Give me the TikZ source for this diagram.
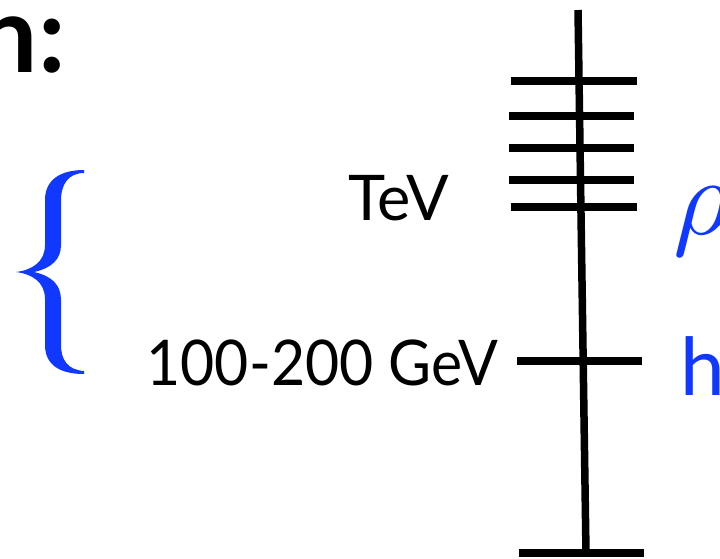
\documentclass[tikz,border=0pt]{standalone}
\usepackage{fontspec}
\setmainfont{Lato}
\definecolor{specblue}{RGB}{16,56,255}
\begin{document}
\begin{tikzpicture}[x=1pt,y=-1pt,
  bar/.style={line width=7.5pt,black},
  lbl/.style={inner sep=0pt,font=\fontsize{63}{70}\selectfont},
  bluelbl/.style={inner sep=0pt,text=specblue}]
\useasboundingbox (0,0) rectangle (720,558);
\clip (0,0) rectangle (720,558);
% title fragment
\node[inner sep=0pt,anchor=base east,font=\bfseries\fontsize{107}{110}\selectfont] (title) at (66,72) {n:};
% brace
\fill[specblue] (84,170) .. controls (60,170) and (45,180) .. (45,200) -- (45,245)
  .. controls (45,262) and (32,270) .. (16,272)
  .. controls (32,274) and (45,282) .. (45,299) -- (45,345)
  .. controls (45,365) and (60,374) .. (84,374) -- (84,371)
  .. controls (68,370) and (61,360) .. (61,345) -- (61,300)
  .. controls (61,285) and (52,276) .. (34,272)
  .. controls (52,268) and (61,259) .. (61,245) -- (61,200)
  .. controls (61,185) and (68,173) .. (84,173) -- cycle;
% labels
\node[lbl,anchor=base east] (tev) at (449,220) {TeV};
\node[lbl,anchor=base east] (gev) at (498,385) {\scalebox{0.935}[1]{100-200 GeV}};
\node[bluelbl,anchor=base west] (rho) at (673,234) {\scalebox{11}{$\rho$}};
\node[bluelbl,anchor=base west,font=\fontsize{80}{82}\selectfont] (h) at (680,395) {h};
% spectrum axis
\coordinate (axtop) at (578,10);
\coordinate (axbot) at (586,553);
\draw[bar] (axtop) -- (axbot);
% resonance levels
\coordinate (r1l) at (511,81);  \coordinate (r1r) at (637,81);
\coordinate (r2l) at (509,116); \coordinate (r2r) at (634,116);
\coordinate (r3l) at (509,148); \coordinate (r3r) at (634,148);
\coordinate (r4l) at (509,180); \coordinate (r4r) at (634,180);
\coordinate (r5l) at (511,207); \coordinate (r5r) at (637,207);
\draw[bar] (r1l) -- (r1r);
\draw[bar] (r2l) -- (r2r);
\draw[bar] (r3l) -- (r3r);
\draw[bar] (r4l) -- (r4r);
\draw[bar] (r5l) -- (r5r);
% higgs level
\coordinate (hl) at (517,361); \coordinate (hr) at (642,361);
\draw[bar] (hl) -- (hr);
% ground
\coordinate (gl) at (519,553); \coordinate (gr) at (644,553);
\draw[bar] (gl) -- (gr);
\end{tikzpicture}
\end{document}
